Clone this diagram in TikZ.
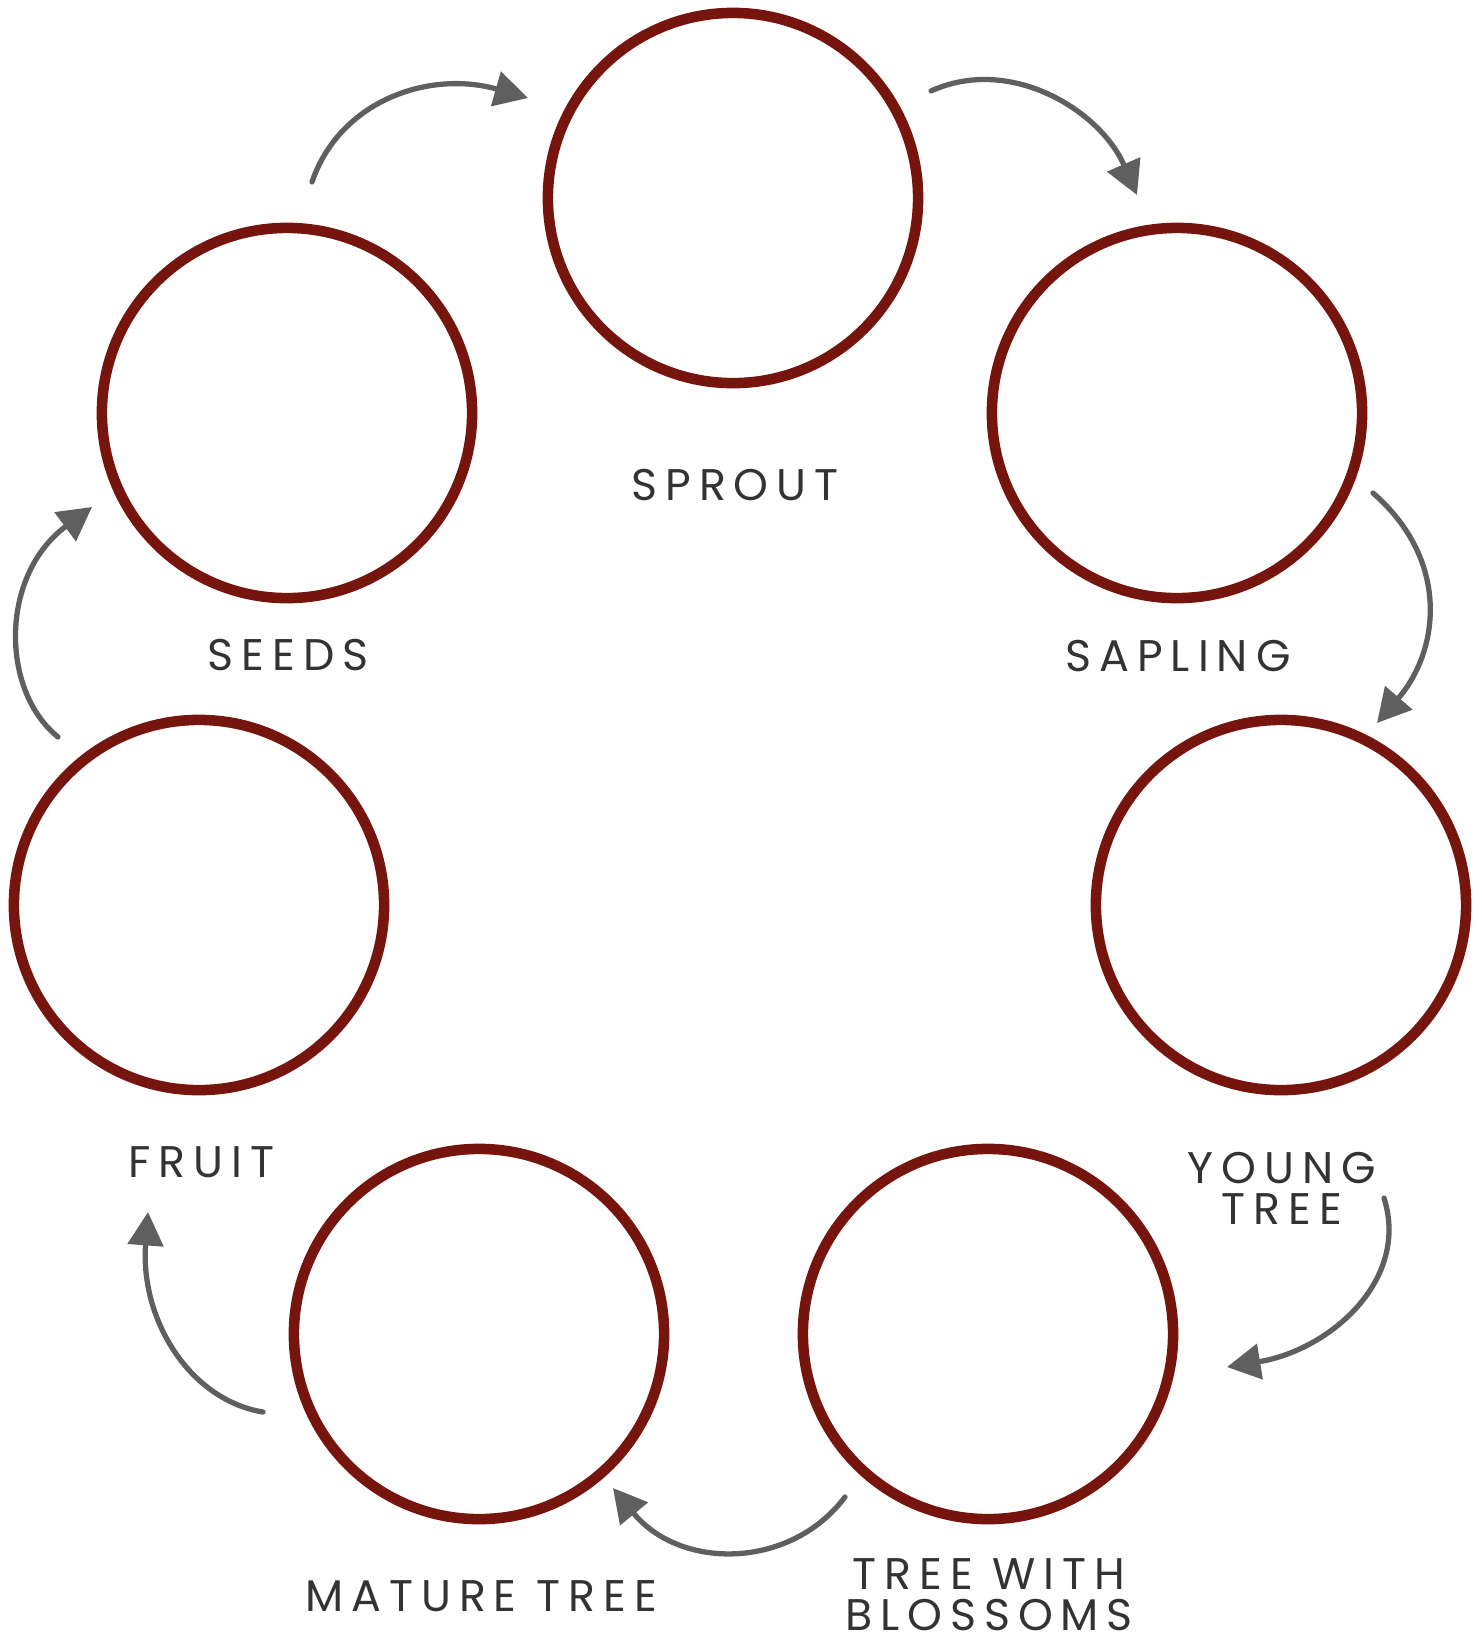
\documentclass[tikz,border=0pt]{standalone}
\usepackage{fontspec}
\setmainfont{Poppins}[LetterSpace=18]
\usetikzlibrary{arrows.meta}
\definecolor{ringred}{RGB}{118,20,14}
\definecolor{inkgray}{RGB}{51,51,51}
\definecolor{pencil}{RGB}{95,95,95}
\begin{document}
\begin{tikzpicture}[x=0.01cm, y=-0.01cm,
    stage/.style={circle, draw=ringred, line width=3pt, minimum size=3.7cm, inner sep=0pt},
    lbl/.style={anchor=north, inner sep=0pt, align=center, text=inkgray,
        font=\fontsize{12.6}{11.5}\selectfont},
    cyc/.style={pencil, line width=1.5pt, line cap=round,
        -{Triangle[length=9.5pt, width=10pt]}}]
    \useasboundingbox (0,0) rectangle (1482,1632);
    % stages
    \node[stage] (sprout)  at (733,198)  {};
    \node[stage] (sapling) at (1177,413) {};
    \node[stage] (young)   at (1281,905) {};
    \node[stage] (bloom)   at (988,1334) {};
    \node[stage] (mature)  at (479,1334) {};
    \node[stage] (fruit)   at (199,905)  {};
    \node[stage] (seeds)   at (287,413)  {};
    % labels
    \node[lbl] (sproutlbl)  at (735,468)  {SPROUT};
    \node[lbl] (saplinglbl) at (1178,639) {SAPLING};
    \node[lbl] (younglbl)   at (1282,1152) {YOUNG\\TREE};
    \node[lbl] (bloomlbl)   at (989,1558) {TREE WITH\\BLOSSOMS};
    \node[lbl] (maturelbl)  at (481,1580) {MATURE TREE};
    \node[lbl] (fruitlbl)   at (201,1146) {FRUIT};
    \node[lbl] (seedslbl)   at (288,638)  {SEEDS};
    % arrow ends
    \coordinate (a1) at (312,182);  \coordinate (b1) at (528,98);
    \coordinate (a2) at (931,91);   \coordinate (b2) at (1137,195);
    \coordinate (a3) at (1373,493); \coordinate (b3) at (1377,723);
    \coordinate (a4) at (1384,1198); \coordinate (b4) at (1227,1367);
    \coordinate (a5) at (845,1497); \coordinate (b5) at (613,1488);
    \coordinate (a6) at (263,1412); \coordinate (b6) at (148,1212);
    \coordinate (a7) at (58,737);   \coordinate (b7) at (92,507);
    % cycle arrows
    \draw[cyc] (a1) .. controls (340,100) and (430,70) .. (b1);
    \draw[cyc] (a2) .. controls (1010,55) and (1100,110) .. (b2);
    \draw[cyc] (a3) .. controls (1450,560) and (1440,650) .. (b3);
    \draw[cyc] (a4) .. controls (1410,1280) and (1330,1350) .. (b4);
    \draw[cyc] (a5) .. controls (790,1570) and (680,1570) .. (b5);
    \draw[cyc] (a6) .. controls (190,1400) and (140,1320) .. (b6);
    \draw[cyc] (a7) .. controls (0,690) and (0,575) .. (b7);
\end{tikzpicture}
\end{document}
